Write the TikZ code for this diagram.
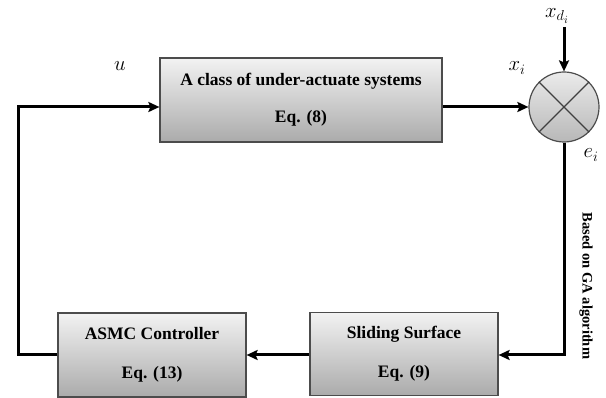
\documentclass[tikz,border=0pt]{standalone}
\usepackage{fontspec}
\setmainfont{Liberation Serif}
\usetikzlibrary{arrows.meta,shapes.geometric}
\begin{document}
\begin{tikzpicture}[x=1pt,y=-1pt,
  blockbox/.style={draw=black!70,line width=1.2pt,rectangle,top color=black!5,bottom color=black!33,
    align=center,font=\fontsize{17.5}{20}\selectfont\bfseries,inner sep=0pt},
  conn/.style={line width=3pt,draw=black,-{Stealth[length=11pt,width=10pt,inset=2pt]}},
  mathlbl/.style={font=\fontsize{22}{24}\selectfont,inner sep=0pt}]
\useasboundingbox (0,0) rectangle (606,398);
\node[blockbox,minimum width=282pt,minimum height=84pt] (plant) at (301,100)
  {A class of under-actuate systems\\[17pt]Eq. (8)};
\node[blockbox,minimum width=188pt,minimum height=83pt] (slide) at (404,354)
  {Sliding Surface\\[19pt]Eq. (9)};
\node[blockbox,minimum width=188pt,minimum height=84pt] (asmc) at (152,355)
  {ASMC Controller\\[19pt]Eq. (13)};
\node[circle,draw=black!70,line width=1.2pt,top color=black!8,bottom color=black!28,minimum size=70pt,inner sep=0pt] (sum) at (564,107) {};
\draw[black!75,line width=1.2pt] (sum.north west) -- (sum.south east) (sum.north east) -- (sum.south west);
\coordinate (xdtop) at (564,27);
\coordinate (rightdown) at (564,355);
\coordinate (leftbot) at (18,355);
\coordinate (lefttop) at (18,107);
\draw[conn] (plant.east |- 0,107) -- (sum.west);
\draw[conn] (xdtop) -- (sum.north);
\draw[conn] (sum.south) -- (rightdown) -- (slide.east |- rightdown);
\draw[conn] (slide.west |- rightdown) -- (asmc.east |- rightdown);
\draw[conn] (asmc.west |- rightdown) -- (leftbot) -- (lefttop) -- (plant.west |- lefttop);
\node[mathlbl] (ulbl) at (120,66) {$u$};
\node[mathlbl] (xilbl) at (517,68) {$x_i$};
\node[mathlbl] (eilbl) at (591,155) {$e_i$};
\node[mathlbl] (xdlbl) at (557,16) {$x_{d_i}$};
\node[rotate=-90,font=\fontsize{14.5}{16}\selectfont\bfseries,inner sep=0pt] (galbl) at (586,286) {Based on GA algorithm};
\end{tikzpicture}
\end{document}
